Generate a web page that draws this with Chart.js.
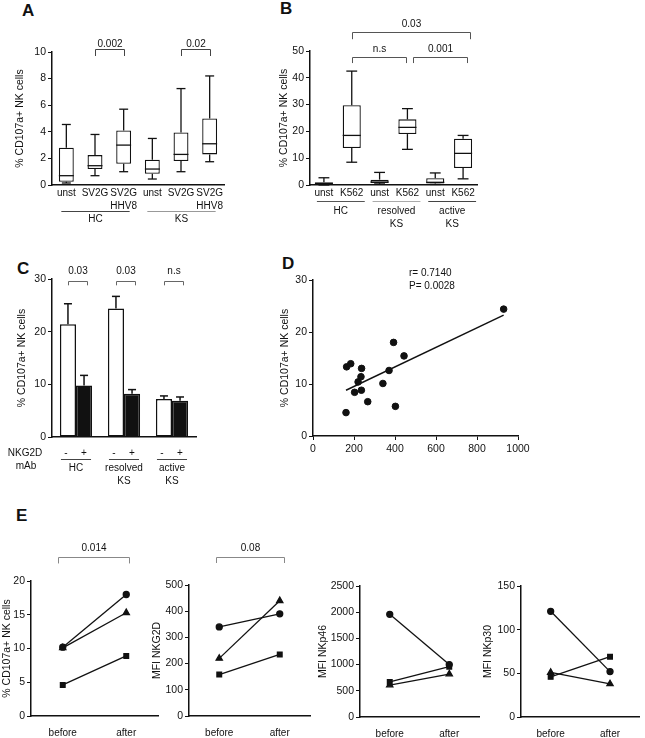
<!DOCTYPE html>
<html lang="en">
<head>
<meta charset="UTF-8">
<title>CD107a+ NK cells</title>
<script src="https://cdn.jsdelivr.net/npm/chart.js@4.4.0/dist/chart.umd.min.js"></script>
<style>
  * { margin: 0; padding: 0; box-sizing: border-box; }
  body { width: 645px; height: 738px; position: relative; background: #fff; overflow: hidden;
         font-family: 'Liberation Sans', Arial, sans-serif; color: #111; }
  canvas { position: absolute; left: 0; top: 0; }
  .tag { position: absolute; font-size: 17px; font-weight: 700; line-height: 1; }
</style>
</head>
<body>
<div class="tag" style="left:22px;top:2px">A</div>
<div class="tag" style="left:280px;top:0px">B</div>
<div class="tag" style="left:17px;top:260px">C</div>
<div class="tag" style="left:282px;top:255px">D</div>
<div class="tag" style="left:16px;top:507px">E</div>
<canvas id="cA" width="645" height="738"></canvas>
<canvas id="cB" width="645" height="738"></canvas>
<canvas id="cC" width="645" height="738"></canvas>
<canvas id="cD" width="645" height="738"></canvas>
<canvas id="cE1" width="645" height="738"></canvas>
<canvas id="cE2" width="645" height="738"></canvas>
<canvas id="cE3" width="645" height="738"></canvas>
<canvas id="cE4" width="645" height="738"></canvas>

<script>
// ── A: box plots, HC vs KS ─────────────────────────────────────────
const catsA = ['unst', 'SV2G', ['SV2G', 'HHV8'], 'unst', 'SV2G', ['SV2G', 'HHV8']]
const minA  = [0.15, 0.7, 1.0, 0.45, 1.0, 1.75]
const q1A   = [0.25, 1.2, 1.6, 0.85, 1.8, 2.3]
const medA  = [0.7, 1.45, 3.0, 1.2, 2.3, 3.1]
const q3A   = [2.8, 2.25, 4.1, 1.9, 3.95, 5.0]
const maxA  = [4.55, 3.8, 5.7, 3.5, 7.25, 8.2]
const groupsA = [[['HC'], 0, 2], [['KS'], 3, 5]]
const sigA  = [[1, 2, 10.25, 9.7, '0.002'], [4, 5, 10.25, 9.7, '0.02']]

// ── B: box plots, K562 stimulation ─────────────────────────────────
const catsB = ['unst', 'K562', 'unst', 'K562', 'unst', 'K562']
const minB  = [0, 8.5, 0.4, 13.3, 0.2, 2.3]
const q1B   = [0.1, 13.8, 0.7, 19.0, 0.6, 6.3]
const medB  = [0.3, 18.5, 1.1, 21.5, 1.0, 11.8]
const q3B   = [1.0, 29.8, 2.0, 24.5, 2.5, 17.3]
const maxB  = [2.7, 42.5, 4.7, 28.5, 4.5, 18.5]
const groupsB = [[['HC'], 0, 1], [['resolved', 'KS'], 2, 3], [['active', 'KS'], 4, 5]]
const sigB  = [[1, 5.25, 57.1, 54.4, '0.03'], [1, 2.96, 47.8, 45.5, 'n.s'], [3.2, 5.15, 47.8, 45.5, '0.001']]

// ── C: NKG2D blocking, mean + SEM ──────────────────────────────────
const groupsC   = [['HC'], ['resolved', 'KS'], ['active', 'KS']]
const minusC    = [21.4, 24.4, 7.2]
const minusErrC = [3.9, 2.3, 0.6]
const plusC     = [9.8, 8.2, 6.9]
const plusErrC  = [1.9, 0.8, 0.7]
const sigC      = ['0.03', '0.03', 'n.s']

// ── D: correlation ─────────────────────────────────────────────────
const xD = [161, 164, 184, 203, 220, 234, 237, 236, 267, 341, 371, 393, 402, 444, 930]
const yD = [4.5, 13.3, 13.9, 8.4, 10.4, 11.4, 13.0, 8.8, 6.6, 10.1, 12.6, 18.0, 5.7, 15.4, 24.4]

// ── E: before / after ──────────────────────────────────────────────
const timesE = ['before', 'after']
const e1Circle = [10.2, 18.0], e1Triangle = [10.1, 15.3], e1Square = [4.6, 8.9]
const e2Circle = [340, 390],   e2Triangle = [220, 440],   e2Square = [158, 235]
const e3Circle = [1960, 1000], e3Triangle = [610, 820],   e3Square = [670, 960]
const e4Circle = [121, 52],    e4Triangle = [51, 38],     e4Square = [46, 69]

const FONT = "'Liberation Sans', Arial, Helvetica, sans-serif"
const INK  = '#111'
Chart.defaults.font.family = FONT
Chart.defaults.font.size = 10
Chart.defaults.color = INK
Chart.defaults.animation = false
Chart.defaults.responsive = false
Chart.defaults.plugins.legend.display = false
Chart.defaults.plugins.tooltip.enabled = false

// put the chart area at fixed page pixels; tx = centre of the y title
function frame(area, tx, xH) {
  const padL = tx - 6.3
  return {
    padding: { left: padL, top: area[1], right: 645 - area[2], bottom: 738 - area[3] - xH },
    yW: area[0] - padL,
    xH,
  }
}

const plain = v => String(v)

function yAxis(f, title, max, step) {
  return {
    min: 0, max,
    afterFit: s => { s.width = f.yW },
    ticks: { stepSize: step, padding: 2, callback: plain, font: { size: 10.5 } },
    grid: { drawOnChartArea: false, tickLength: 4, color: INK },
    border: { color: INK, width: 1.5 },
    title: { display: true, text: title, padding: 0, font: { size: 10.5 } },
  }
}

function catAxis(f, pad) {
  return {
    type: 'category', offset: true,
    afterFit: s => { s.height = f.xH },
    grid: { display: false, drawTicks: false },
    border: { color: INK, width: 1.5 },
    ticks: { padding: pad, autoSkip: false, maxRotation: 0, font: { lineHeight: 1.3 } },
  }
}

const line = (ctx, x1, y1, x2, y2) => { ctx.beginPath(); ctx.moveTo(x1, y1); ctx.lineTo(x2, y2); ctx.stroke() }

// whiskers + median on top of the floating [q1, q3] bars
const boxPlot = {
  id: 'boxPlot',
  afterDatasetsDraw(chart, args, o) {
    const { ctx } = chart
    const y = chart.scales.y
    ctx.save()
    ctx.strokeStyle = INK
    ctx.lineWidth = 1.3
    chart.getDatasetMeta(0).data.forEach((bar, i) => {
      const half = bar.width / 2, cap = bar.width * 0.3
      const yMed = y.getPixelForValue(o.med[i])
      const yMax = y.getPixelForValue(o.max[i]), yMin = y.getPixelForValue(o.min[i])
      const [lo, hi] = chart.data.datasets[0].data[i]
      line(ctx, bar.x - half, yMed, bar.x + half, yMed)
      line(ctx, bar.x, y.getPixelForValue(hi), bar.x, yMax)
      line(ctx, bar.x - cap, yMax, bar.x + cap, yMax)
      line(ctx, bar.x, y.getPixelForValue(lo), bar.x, yMin)
      line(ctx, bar.x - cap, yMin, bar.x + cap, yMin)
    })
    ctx.restore()
  },
}

// significance brackets above the plot
const brackets = {
  id: 'brackets',
  afterDraw(chart, args, o) {
    const { ctx, scales: { x, y } } = chart
    ctx.save()
    ctx.strokeStyle = o.color
    ctx.lineWidth = 1
    ctx.fillStyle = INK
    ctx.font = `10px ${FONT}`
    ctx.textAlign = 'center'
    o.items.forEach(([a, b, top, tick, label]) => {
      const x1 = Math.round(x.getPixelForValue(a)) + 0.5, x2 = Math.round(x.getPixelForValue(b)) + 0.5
      const yt = Math.round(y.getPixelForValue(top)) + 0.5, yk = y.getPixelForValue(tick)
      ctx.beginPath()
      ctx.moveTo(x1, yk); ctx.lineTo(x1, yt); ctx.lineTo(x2, yt); ctx.lineTo(x2, yk)
      ctx.stroke()
      ctx.fillText(label, (x1 + x2) / 2, yt - o.gap)
    })
    ctx.restore()
  },
}

// group underlines + names below the category labels
const groups = {
  id: 'groups',
  afterDraw(chart, args, o) {
    const { ctx, chartArea } = chart
    const x = chart.scales.x, base = chartArea.bottom
    ctx.save()
    ctx.font = `10px ${FONT}`
    ctx.fillStyle = INK
    ctx.textAlign = 'center'
    ctx.textBaseline = 'middle'
    ctx.lineWidth = 1
    o.items.forEach(([names, a, b], k) => {
      const x1 = x.getPixelForValue(a) - o.left, x2 = x.getPixelForValue(b) + o.right
      ctx.strokeStyle = o.colors[k]
      line(ctx, x1, base + o.line + 0.5, x2, base + o.line + 0.5)
      names.forEach((t, j) => ctx.fillText(t, (x1 + x2) / 2, base + o.text + j * 13))
    })
    ctx.restore()
  },
}

// ── A ──
const fA = frame([52, 52, 224, 185], 20, 45)
new Chart(document.getElementById('cA'), {
  type: 'bar',
  data: { labels: catsA, datasets: [{
    data: q1A.map((v, i) => [v, q3A[i]]),
    backgroundColor: '#fff', borderColor: INK, borderWidth: 1.3, borderSkipped: false,
    barPercentage: 0.52, categoryPercentage: 1,
  }] },
  options: {
    layout: { padding: fA.padding },
    scales: { x: catAxis(fA, 2), y: yAxis(fA, '% CD107a+ NK cells', 10, 2) },
    plugins: {
      boxPlot: { min: minA, med: medA, max: maxA },
      brackets: { items: sigA, color: '#444', gap: 3 },
      groups: { items: groupsA, left: 5, right: 6, line: 26, text: 34, colors: ['#444', '#999'] },
    },
  },
  plugins: [boxPlot, brackets, groups],
})

// ── B ──
const fB = frame([310, 51, 477, 185], 284, 45)
new Chart(document.getElementById('cB'), {
  type: 'bar',
  data: { labels: catsB, datasets: [{
    data: q1B.map((v, i) => [v, q3B[i]]),
    backgroundColor: '#fff', borderColor: INK, borderWidth: 1.3, borderSkipped: false,
    barPercentage: 0.65, categoryPercentage: 1,
  }] },
  options: {
    layout: { padding: fB.padding },
    scales: { x: catAxis(fB, 2), y: yAxis(fB, '% CD107a+ NK cells', 50, 10) },
    plugins: {
      boxPlot: { min: minB, med: medB, max: maxB },
      brackets: { items: sigB, color: '#555', gap: 6 },
      groups: { items: groupsB, left: 7, right: 13, line: 16, text: 26, colors: ['#555', '#aaa', '#444'] },
    },
  },
  plugins: [boxPlot, brackets, groups],
})

// ── C ──
const errorBars = {
  id: 'errorBars',
  afterDatasetsDraw(chart, args, o) {
    const { ctx, scales: { y } } = chart
    ctx.save()
    ctx.strokeStyle = INK
    ctx.lineWidth = 1.5
    o.errors.forEach((errs, d) => {
      chart.getDatasetMeta(d).data.forEach((bar, i) => {
        const top = y.getPixelForValue(chart.data.datasets[d].data[i] + errs[i])
        line(ctx, bar.x, bar.y, bar.x, top)
        line(ctx, bar.x - 4, top, bar.x + 4, top)
      })
    })
    ctx.restore()
  },
}

const mabRow = {
  id: 'mabRow',
  afterDraw(chart) {
    const { ctx, chartArea } = chart
    const base = chartArea.bottom
    const minus = chart.getDatasetMeta(0).data, plus = chart.getDatasetMeta(1).data
    ctx.save()
    ctx.font = `10px ${FONT}`
    ctx.fillStyle = INK
    ctx.textAlign = 'center'
    ctx.textBaseline = 'middle'
    ctx.strokeStyle = '#444'
    ctx.lineWidth = 1
    ctx.fillText('NKG2D', chartArea.left - 27, base + 16)
    ctx.fillText('mAb', chartArea.left - 26, base + 29)
    minus.forEach((bar, i) => {
      ctx.fillText('-', bar.x - 2, base + 16)
      ctx.fillText('+', plus[i].x, base + 16)
      const x1 = bar.x - 7, x2 = plus[i].x + 7
      line(ctx, x1, base + 22.5, x2, base + 22.5)
      groupsC[i].forEach((t, j) => ctx.fillText(t, (x1 + x2) / 2, base + 31 + j * 13))
    })
    ctx.restore()
  },
}

const fC = frame([52, 279, 196, 437], 22, 50)
new Chart(document.getElementById('cC'), {
  type: 'bar',
  data: {
    labels: groupsC.map(g => g.join(' ')),
    datasets: [
      { data: minusC, backgroundColor: '#fff', borderColor: INK, borderWidth: 1.5, borderSkipped: false,
        barPercentage: 1, categoryPercentage: 0.67 },
      { data: plusC, backgroundColor: INK, borderColor: INK, borderWidth: 1.5,
        barPercentage: 1, categoryPercentage: 0.67 },
    ],
  },
  options: {
    layout: { padding: fC.padding },
    scales: {
      x: Object.assign(catAxis(fC, 2), { ticks: { display: false } }),
      y: yAxis(fC, '% CD107a+ NK cells', 30, 10),
    },
    plugins: {
      errorBars: { errors: [minusErrC, plusErrC] },
      brackets: {
        items: sigC.map((s, i) => [i - 0.17, i + 0.23, 29.7, 28.8, s]),
        color: '#666', gap: 8,
      },
    },
  },
  plugins: [errorBars, brackets, mabRow],
})

// ── D ──
const meanX = xD.reduce((a, b) => a + b, 0) / xD.length
const meanY = yD.reduce((a, b) => a + b, 0) / yD.length
const slope = xD.reduce((s, x, i) => s + (x - meanX) * (yD[i] - meanY), 0) /
              xD.reduce((s, x) => s + (x - meanX) ** 2, 0)
const icept = meanY - slope * meanX
const xLo = Math.min(...xD), xHi = Math.max(...xD)

const statsText = {
  id: 'statsText',
  afterDraw(chart) {
    const { ctx, chartArea } = chart
    ctx.save()
    ctx.font = `10px ${FONT}`
    ctx.fillStyle = INK
    ctx.textBaseline = 'middle'
    ctx.fillText('r= 0.7140', chartArea.left + 96, chartArea.top - 7)
    ctx.fillText('P= 0.0028', chartArea.left + 96, chartArea.top + 6)
    ctx.restore()
  },
}

const fD = frame([313, 280, 518, 436], 285, 25)
new Chart(document.getElementById('cD'), {
  type: 'scatter',
  data: { datasets: [
    { data: xD.map((x, i) => ({ x, y: yD[i] })), pointRadius: 3.3, backgroundColor: INK, borderColor: INK },
    { type: 'line', data: [{ x: xLo, y: icept + slope * xLo }, { x: xHi, y: icept + slope * xHi }],
      borderColor: INK, borderWidth: 1.4, pointRadius: 0 },
  ] },
  options: {
    layout: { padding: fD.padding },
    scales: {
      x: { type: 'linear', min: 0, max: 1000,
           afterFit: s => { s.height = fD.xH },
           ticks: { stepSize: 200, padding: 3, callback: plain, font: { size: 10.5 } },
           grid: { drawOnChartArea: false, tickLength: 4, color: INK },
           border: { color: INK, width: 1.5 } },
      y: yAxis(fD, '% CD107a+ NK cells', 30, 10),
    },
  },
  plugins: [statsText],
})

// ── E ──
function makeE(id, area, tx, title, max, step, series, sig) {
  const f = frame(area, tx, 25)
  new Chart(document.getElementById(id), {
    type: 'line',
    data: { labels: timesE, datasets: series.map(([data, style, r]) => ({
      data, pointStyle: style, pointRadius: r, backgroundColor: INK, borderColor: INK, borderWidth: 1.3,
    })) },
    options: {
      layout: { padding: f.padding },
      scales: { x: catAxis(f, 11), y: yAxis(f, title, max, step) },
      plugins: { brackets: { items: sig ? [sig] : [], color: '#888', gap: 7 } },
    },
    plugins: [brackets],
  })
}

makeE('cE1', [31, 581, 158, 716], 7, '% CD107a+ NK cells', 20, 5,
  [[e1Circle, 'circle', 3], [e1Triangle, 'triangle', 3.6], [e1Square, 'rect', 3.3]],
  [-0.07, 1.05, 23.6, 22.6, '0.014'])
makeE('cE2', [189, 585, 310, 716], 157, 'MFI NKG2D', 500, 100,
  [[e2Circle, 'circle', 3], [e2Triangle, 'triangle', 3.6], [e2Square, 'rect', 3.3]],
  [-0.05, 1.07, 607, 584, '0.08'])
makeE('cE3', [360, 586, 479, 717], 323, 'MFI NKp46', 2500, 500,
  [[e3Circle, 'circle', 3], [e3Triangle, 'triangle', 3.6], [e3Square, 'rect', 3.3]], null)
makeE('cE4', [521, 586, 640, 717], 488, 'MFI NKp30', 150, 50,
  [[e4Circle, 'circle', 3], [e4Triangle, 'triangle', 3.6], [e4Square, 'rect', 3.3]], null)
</script>
</body>
</html>
